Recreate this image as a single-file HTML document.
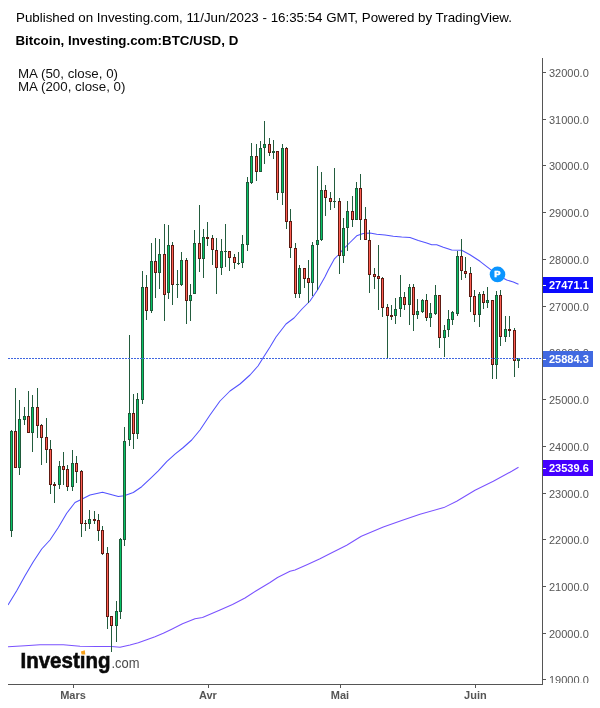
<!DOCTYPE html>
<html lang="fr"><head><meta charset="utf-8"><title>Bitcoin, Investing.com:BTC/USD, D</title>
<style>html,body{margin:0;padding:0;background:#fff}body{width:600px;height:708px;overflow:hidden}</style></head>
<body>
<svg width="600" height="708" viewBox="0 0 600 708" style="display:block">
<rect width="600" height="708" fill="#ffffff"/>
<text x="16" y="21.6" font-family="Liberation Sans, Arial, Helvetica, sans-serif" font-size="13.33" fill="#000000">Published on Investing.com, 11/Jun/2023 - 16:35:54 GMT, Powered by TradingView.</text>
<text x="15.4" y="44.7" font-family="Liberation Sans, Arial, Helvetica, sans-serif" font-size="13.33" font-weight="bold" fill="#000000">Bitcoin, Investing.com:BTC/USD, D</text>
<text x="18" y="78" font-family="Liberation Sans, Arial, Helvetica, sans-serif" font-size="13.33" fill="#111111">MA (50, close, 0)</text>
<text x="18" y="90.5" font-family="Liberation Sans, Arial, Helvetica, sans-serif" font-size="13.33" fill="#111111">MA (200, close, 0)</text>
<defs><clipPath id="plot"><rect x="8" y="58" width="534" height="626"/></clipPath><clipPath id="pax"><rect x="543" y="58" width="57" height="625"/></clipPath></defs>
<g clip-path="url(#plot)">
<path d="M8.0,646.7 L25.0,645.8 L40.0,644.7 L63.3,644.7 L80.0,646.2 L96.7,646.5 L111.7,646.5 L120.0,647.3 L130.0,645.0 L138.3,642.8 L146.7,639.7 L155.0,636.7 L163.3,633.3 L171.7,629.2 L182.5,623.8 L195.0,618.8 L202.5,617.5 L220.0,610.0 L232.5,604.5 L245.0,598.0 L257.5,590.0 L270.0,582.5 L277.5,577.5 L290.0,571.3 L295.0,570.0 L307.5,564.5 L320.0,558.8 L328.3,554.5 L346.7,545.3 L361.3,536.2 L383.3,527.0 L401.7,520.4 L420.0,514.2 L443.8,507.6 L456.7,501.3 L475.0,490.3 L493.3,481.2 L511.7,471.3 L518.5,467.2" fill="none" stroke="#7a52ff" stroke-width="1.05" stroke-linejoin="round"/>
<path d="M8.0,605.0 L16.7,590.8 L25.0,575.8 L33.3,561.7 L41.7,549.0 L50.0,540.0 L58.3,527.5 L66.7,513.3 L75.0,502.5 L81.7,499.2 L90.0,495.0 L102.5,492.2 L110.0,494.2 L118.3,496.5 L124.2,495.7 L133.3,492.5 L141.7,486.7 L150.0,478.8 L158.3,470.8 L166.7,461.7 L175.0,454.2 L183.3,447.5 L191.7,440.0 L200.0,430.0 L210.0,415.0 L220.0,401.0 L230.0,391.0 L240.0,384.0 L250.0,375.0 L258.0,366.0 L263.0,358.0 L270.0,347.0 L276.0,337.0 L286.0,324.0 L294.0,318.0 L302.0,309.0 L310.0,301.0 L317.5,290.0 L325.0,276.7 L328.3,270.0 L334.2,259.2 L338.3,255.0 L343.3,249.2 L350.0,242.5 L356.7,235.8 L363.3,233.5 L370.0,233.0 L376.7,234.2 L385.0,235.0 L393.3,236.3 L401.7,237.0 L410.0,237.5 L418.3,240.5 L426.7,243.0 L431.7,244.7 L436.7,244.7 L443.3,247.2 L451.7,250.0 L461.7,250.3 L470.0,254.7 L480.0,261.3 L490.0,269.2 L497.5,275.0 L506.7,280.0 L513.3,282.0 L518.5,284.3" fill="none" stroke="#5252ff" stroke-width="1.05" stroke-linejoin="round"/>
<g shape-rendering="crispEdges">
<rect x="11" y="430" width="1" height="1" fill="#235c3e"/>
<rect x="11" y="531" width="1" height="6" fill="#235c3e"/>
<rect x="10" y="431" width="3" height="100" fill="#1f5a3a"/>
<rect x="11" y="432" width="1" height="98" fill="#06c366"/>
<rect x="15" y="388" width="1" height="43" fill="#235c3e"/>
<rect x="14" y="431" width="3" height="37" fill="#5e1a12"/>
<rect x="15" y="432" width="1" height="35" fill="#ff5e52"/>
<rect x="19" y="400" width="1" height="19" fill="#235c3e"/>
<rect x="19" y="468" width="1" height="7" fill="#235c3e"/>
<rect x="18" y="419" width="3" height="49" fill="#1f5a3a"/>
<rect x="19" y="420" width="1" height="47" fill="#06c366"/>
<rect x="24" y="407" width="1" height="9" fill="#235c3e"/>
<rect x="24" y="420" width="1" height="5" fill="#235c3e"/>
<rect x="23" y="416" width="3" height="4" fill="#1f5a3a"/>
<rect x="24" y="417" width="1" height="2" fill="#06c366"/>
<rect x="28" y="391" width="1" height="25" fill="#235c3e"/>
<rect x="27" y="416" width="3" height="17" fill="#5e1a12"/>
<rect x="28" y="417" width="1" height="15" fill="#ff5e52"/>
<rect x="32" y="395" width="1" height="12" fill="#235c3e"/>
<rect x="32" y="433" width="1" height="19" fill="#235c3e"/>
<rect x="31" y="407" width="3" height="26" fill="#1f5a3a"/>
<rect x="32" y="408" width="1" height="24" fill="#06c366"/>
<rect x="37" y="388" width="1" height="19" fill="#235c3e"/>
<rect x="37" y="426" width="1" height="12" fill="#235c3e"/>
<rect x="36" y="407" width="3" height="19" fill="#5e1a12"/>
<rect x="37" y="408" width="1" height="17" fill="#ff5e52"/>
<rect x="41" y="424" width="1" height="1" fill="#235c3e"/>
<rect x="41" y="438" width="1" height="27" fill="#235c3e"/>
<rect x="40" y="425" width="3" height="13" fill="#5e1a12"/>
<rect x="41" y="426" width="1" height="11" fill="#ff5e52"/>
<rect x="46" y="418" width="1" height="19" fill="#235c3e"/>
<rect x="46" y="450" width="1" height="13" fill="#235c3e"/>
<rect x="45" y="437" width="3" height="13" fill="#5e1a12"/>
<rect x="46" y="438" width="1" height="11" fill="#ff5e52"/>
<rect x="50" y="440" width="1" height="9" fill="#235c3e"/>
<rect x="50" y="485" width="1" height="9" fill="#235c3e"/>
<rect x="49" y="449" width="3" height="36" fill="#5e1a12"/>
<rect x="50" y="450" width="1" height="34" fill="#ff5e52"/>
<rect x="54" y="482" width="1" height="2" fill="#235c3e"/>
<rect x="54" y="486" width="1" height="17" fill="#235c3e"/>
<rect x="53" y="484" width="3" height="2" fill="#5e1a12"/>
<rect x="59" y="461" width="1" height="5" fill="#235c3e"/>
<rect x="59" y="485" width="1" height="4" fill="#235c3e"/>
<rect x="58" y="466" width="3" height="19" fill="#1f5a3a"/>
<rect x="59" y="467" width="1" height="17" fill="#06c366"/>
<rect x="63" y="452" width="1" height="14" fill="#235c3e"/>
<rect x="63" y="470" width="1" height="15" fill="#235c3e"/>
<rect x="62" y="466" width="3" height="4" fill="#5e1a12"/>
<rect x="63" y="467" width="1" height="2" fill="#ff5e52"/>
<rect x="67" y="465" width="1" height="4" fill="#235c3e"/>
<rect x="67" y="487" width="1" height="4" fill="#235c3e"/>
<rect x="66" y="469" width="3" height="18" fill="#5e1a12"/>
<rect x="67" y="470" width="1" height="16" fill="#ff5e52"/>
<rect x="72" y="450" width="1" height="13" fill="#235c3e"/>
<rect x="72" y="487" width="1" height="4" fill="#235c3e"/>
<rect x="71" y="463" width="3" height="24" fill="#1f5a3a"/>
<rect x="72" y="464" width="1" height="22" fill="#06c366"/>
<rect x="76" y="456" width="1" height="7" fill="#235c3e"/>
<rect x="76" y="472" width="1" height="11" fill="#235c3e"/>
<rect x="75" y="463" width="3" height="9" fill="#5e1a12"/>
<rect x="76" y="464" width="1" height="7" fill="#ff5e52"/>
<rect x="81" y="470" width="1" height="1" fill="#235c3e"/>
<rect x="81" y="524" width="1" height="13" fill="#235c3e"/>
<rect x="80" y="471" width="3" height="53" fill="#5e1a12"/>
<rect x="81" y="472" width="1" height="51" fill="#ff5e52"/>
<rect x="85" y="520" width="1" height="3" fill="#235c3e"/>
<rect x="85" y="524" width="1" height="7" fill="#235c3e"/>
<rect x="84" y="523" width="3" height="1" fill="#5e1a12"/>
<rect x="89" y="510" width="1" height="9" fill="#235c3e"/>
<rect x="89" y="524" width="1" height="5" fill="#235c3e"/>
<rect x="88" y="519" width="3" height="5" fill="#1f5a3a"/>
<rect x="89" y="520" width="1" height="3" fill="#06c366"/>
<rect x="94" y="511" width="1" height="8" fill="#235c3e"/>
<rect x="94" y="521" width="1" height="3" fill="#235c3e"/>
<rect x="93" y="519" width="3" height="2" fill="#5e1a12"/>
<rect x="98" y="514" width="1" height="6" fill="#235c3e"/>
<rect x="98" y="531" width="1" height="10" fill="#235c3e"/>
<rect x="97" y="520" width="3" height="11" fill="#5e1a12"/>
<rect x="98" y="521" width="1" height="9" fill="#ff5e52"/>
<rect x="102" y="526" width="1" height="4" fill="#235c3e"/>
<rect x="102" y="554" width="1" height="1" fill="#235c3e"/>
<rect x="101" y="530" width="3" height="24" fill="#5e1a12"/>
<rect x="102" y="531" width="1" height="22" fill="#ff5e52"/>
<rect x="107" y="547" width="1" height="6" fill="#235c3e"/>
<rect x="107" y="617" width="1" height="12" fill="#235c3e"/>
<rect x="106" y="553" width="3" height="64" fill="#5e1a12"/>
<rect x="107" y="554" width="1" height="62" fill="#ff5e52"/>
<rect x="111" y="626" width="1" height="26" fill="#235c3e"/>
<rect x="110" y="616" width="3" height="10" fill="#5e1a12"/>
<rect x="111" y="617" width="1" height="8" fill="#ff5e52"/>
<rect x="116" y="601" width="1" height="10" fill="#235c3e"/>
<rect x="116" y="626" width="1" height="16" fill="#235c3e"/>
<rect x="115" y="611" width="3" height="15" fill="#1f5a3a"/>
<rect x="116" y="612" width="1" height="13" fill="#06c366"/>
<rect x="120" y="538" width="1" height="1" fill="#235c3e"/>
<rect x="120" y="612" width="1" height="7" fill="#235c3e"/>
<rect x="119" y="539" width="3" height="73" fill="#1f5a3a"/>
<rect x="120" y="540" width="1" height="71" fill="#06c366"/>
<rect x="124" y="427" width="1" height="14" fill="#235c3e"/>
<rect x="124" y="540" width="1" height="6" fill="#235c3e"/>
<rect x="123" y="441" width="3" height="99" fill="#1f5a3a"/>
<rect x="124" y="442" width="1" height="97" fill="#06c366"/>
<rect x="129" y="335" width="1" height="78" fill="#235c3e"/>
<rect x="129" y="440" width="1" height="6" fill="#235c3e"/>
<rect x="128" y="413" width="3" height="27" fill="#1f5a3a"/>
<rect x="129" y="414" width="1" height="25" fill="#06c366"/>
<rect x="133" y="394" width="1" height="19" fill="#235c3e"/>
<rect x="133" y="434" width="1" height="15" fill="#235c3e"/>
<rect x="132" y="413" width="3" height="21" fill="#5e1a12"/>
<rect x="133" y="414" width="1" height="19" fill="#ff5e52"/>
<rect x="137" y="393" width="1" height="6" fill="#235c3e"/>
<rect x="137" y="434" width="1" height="5" fill="#235c3e"/>
<rect x="136" y="399" width="3" height="35" fill="#1f5a3a"/>
<rect x="137" y="400" width="1" height="33" fill="#06c366"/>
<rect x="142" y="271" width="1" height="16" fill="#235c3e"/>
<rect x="142" y="400" width="1" height="4" fill="#235c3e"/>
<rect x="141" y="287" width="3" height="113" fill="#1f5a3a"/>
<rect x="142" y="288" width="1" height="111" fill="#06c366"/>
<rect x="146" y="275" width="1" height="12" fill="#235c3e"/>
<rect x="146" y="311" width="1" height="9" fill="#235c3e"/>
<rect x="145" y="287" width="3" height="24" fill="#5e1a12"/>
<rect x="146" y="288" width="1" height="22" fill="#ff5e52"/>
<rect x="151" y="243" width="1" height="18" fill="#235c3e"/>
<rect x="151" y="311" width="1" height="2" fill="#235c3e"/>
<rect x="150" y="261" width="3" height="50" fill="#1f5a3a"/>
<rect x="151" y="262" width="1" height="48" fill="#06c366"/>
<rect x="155" y="238" width="1" height="23" fill="#235c3e"/>
<rect x="155" y="273" width="1" height="25" fill="#235c3e"/>
<rect x="154" y="261" width="3" height="12" fill="#5e1a12"/>
<rect x="155" y="262" width="1" height="10" fill="#ff5e52"/>
<rect x="159" y="239" width="1" height="15" fill="#235c3e"/>
<rect x="159" y="273" width="1" height="16" fill="#235c3e"/>
<rect x="158" y="254" width="3" height="19" fill="#1f5a3a"/>
<rect x="159" y="255" width="1" height="17" fill="#06c366"/>
<rect x="164" y="224" width="1" height="30" fill="#235c3e"/>
<rect x="164" y="295" width="1" height="26" fill="#235c3e"/>
<rect x="163" y="254" width="3" height="41" fill="#5e1a12"/>
<rect x="164" y="255" width="1" height="39" fill="#ff5e52"/>
<rect x="168" y="225" width="1" height="20" fill="#235c3e"/>
<rect x="168" y="293" width="1" height="6" fill="#235c3e"/>
<rect x="167" y="245" width="3" height="48" fill="#1f5a3a"/>
<rect x="168" y="246" width="1" height="46" fill="#06c366"/>
<rect x="172" y="242" width="1" height="3" fill="#235c3e"/>
<rect x="172" y="285" width="1" height="20" fill="#235c3e"/>
<rect x="171" y="245" width="3" height="40" fill="#5e1a12"/>
<rect x="172" y="246" width="1" height="38" fill="#ff5e52"/>
<rect x="177" y="270" width="1" height="14" fill="#235c3e"/>
<rect x="177" y="285" width="1" height="13" fill="#235c3e"/>
<rect x="176" y="284" width="3" height="1" fill="#1f5a3a"/>
<rect x="181" y="252" width="1" height="8" fill="#235c3e"/>
<rect x="181" y="285" width="1" height="1" fill="#235c3e"/>
<rect x="180" y="260" width="3" height="25" fill="#1f5a3a"/>
<rect x="181" y="261" width="1" height="23" fill="#06c366"/>
<rect x="186" y="258" width="1" height="2" fill="#235c3e"/>
<rect x="186" y="301" width="1" height="23" fill="#235c3e"/>
<rect x="185" y="260" width="3" height="41" fill="#5e1a12"/>
<rect x="186" y="261" width="1" height="39" fill="#ff5e52"/>
<rect x="190" y="284" width="1" height="11" fill="#235c3e"/>
<rect x="190" y="301" width="1" height="20" fill="#235c3e"/>
<rect x="189" y="295" width="3" height="6" fill="#1f5a3a"/>
<rect x="190" y="296" width="1" height="4" fill="#06c366"/>
<rect x="194" y="230" width="1" height="13" fill="#235c3e"/>
<rect x="193" y="243" width="3" height="51" fill="#1f5a3a"/>
<rect x="194" y="244" width="1" height="49" fill="#06c366"/>
<rect x="199" y="205" width="1" height="38" fill="#235c3e"/>
<rect x="199" y="259" width="1" height="13" fill="#235c3e"/>
<rect x="198" y="243" width="3" height="16" fill="#5e1a12"/>
<rect x="199" y="244" width="1" height="14" fill="#ff5e52"/>
<rect x="203" y="229" width="1" height="8" fill="#235c3e"/>
<rect x="203" y="259" width="1" height="19" fill="#235c3e"/>
<rect x="202" y="237" width="3" height="22" fill="#1f5a3a"/>
<rect x="203" y="238" width="1" height="20" fill="#06c366"/>
<rect x="207" y="222" width="1" height="15" fill="#235c3e"/>
<rect x="207" y="239" width="1" height="7" fill="#235c3e"/>
<rect x="206" y="237" width="3" height="2" fill="#5e1a12"/>
<rect x="212" y="235" width="1" height="3" fill="#235c3e"/>
<rect x="212" y="250" width="1" height="15" fill="#235c3e"/>
<rect x="211" y="238" width="3" height="12" fill="#5e1a12"/>
<rect x="212" y="239" width="1" height="10" fill="#ff5e52"/>
<rect x="216" y="238" width="1" height="12" fill="#235c3e"/>
<rect x="216" y="268" width="1" height="26" fill="#235c3e"/>
<rect x="215" y="250" width="3" height="18" fill="#5e1a12"/>
<rect x="216" y="251" width="1" height="16" fill="#ff5e52"/>
<rect x="221" y="239" width="1" height="12" fill="#235c3e"/>
<rect x="221" y="268" width="1" height="7" fill="#235c3e"/>
<rect x="220" y="251" width="3" height="17" fill="#1f5a3a"/>
<rect x="221" y="252" width="1" height="15" fill="#06c366"/>
<rect x="225" y="224" width="1" height="27" fill="#235c3e"/>
<rect x="225" y="252" width="1" height="15" fill="#235c3e"/>
<rect x="224" y="251" width="3" height="1" fill="#1f5a3a"/>
<rect x="229" y="258" width="1" height="13" fill="#235c3e"/>
<rect x="228" y="251" width="3" height="7" fill="#5e1a12"/>
<rect x="229" y="252" width="1" height="5" fill="#ff5e52"/>
<rect x="234" y="254" width="1" height="3" fill="#235c3e"/>
<rect x="234" y="263" width="1" height="6" fill="#235c3e"/>
<rect x="233" y="257" width="3" height="6" fill="#5e1a12"/>
<rect x="234" y="258" width="1" height="4" fill="#ff5e52"/>
<rect x="238" y="252" width="1" height="11" fill="#235c3e"/>
<rect x="238" y="264" width="1" height="1" fill="#235c3e"/>
<rect x="237" y="263" width="3" height="1" fill="#1f5a3a"/>
<rect x="242" y="235" width="1" height="9" fill="#235c3e"/>
<rect x="242" y="263" width="1" height="5" fill="#235c3e"/>
<rect x="241" y="244" width="3" height="19" fill="#1f5a3a"/>
<rect x="242" y="245" width="1" height="17" fill="#06c366"/>
<rect x="247" y="177" width="1" height="5" fill="#235c3e"/>
<rect x="247" y="245" width="1" height="6" fill="#235c3e"/>
<rect x="246" y="182" width="3" height="63" fill="#1f5a3a"/>
<rect x="247" y="183" width="1" height="61" fill="#06c366"/>
<rect x="251" y="143" width="1" height="13" fill="#235c3e"/>
<rect x="251" y="183" width="1" height="1" fill="#235c3e"/>
<rect x="250" y="156" width="3" height="27" fill="#1f5a3a"/>
<rect x="251" y="157" width="1" height="25" fill="#06c366"/>
<rect x="256" y="144" width="1" height="12" fill="#235c3e"/>
<rect x="256" y="172" width="1" height="9" fill="#235c3e"/>
<rect x="255" y="156" width="3" height="16" fill="#5e1a12"/>
<rect x="256" y="157" width="1" height="14" fill="#ff5e52"/>
<rect x="260" y="141" width="1" height="7" fill="#235c3e"/>
<rect x="259" y="148" width="3" height="24" fill="#1f5a3a"/>
<rect x="260" y="149" width="1" height="22" fill="#06c366"/>
<rect x="264" y="121" width="1" height="23" fill="#235c3e"/>
<rect x="264" y="148" width="1" height="16" fill="#235c3e"/>
<rect x="263" y="144" width="3" height="4" fill="#1f5a3a"/>
<rect x="264" y="145" width="1" height="2" fill="#06c366"/>
<rect x="269" y="138" width="1" height="6" fill="#235c3e"/>
<rect x="269" y="153" width="1" height="3" fill="#235c3e"/>
<rect x="268" y="144" width="3" height="9" fill="#5e1a12"/>
<rect x="269" y="145" width="1" height="7" fill="#ff5e52"/>
<rect x="273" y="140" width="1" height="11" fill="#235c3e"/>
<rect x="273" y="153" width="1" height="6" fill="#235c3e"/>
<rect x="272" y="151" width="3" height="2" fill="#1f5a3a"/>
<rect x="277" y="193" width="1" height="7" fill="#235c3e"/>
<rect x="276" y="151" width="3" height="42" fill="#5e1a12"/>
<rect x="277" y="152" width="1" height="40" fill="#ff5e52"/>
<rect x="282" y="144" width="1" height="4" fill="#235c3e"/>
<rect x="282" y="193" width="1" height="12" fill="#235c3e"/>
<rect x="281" y="148" width="3" height="45" fill="#1f5a3a"/>
<rect x="282" y="149" width="1" height="43" fill="#06c366"/>
<rect x="286" y="147" width="1" height="1" fill="#235c3e"/>
<rect x="286" y="222" width="1" height="7" fill="#235c3e"/>
<rect x="285" y="148" width="3" height="74" fill="#5e1a12"/>
<rect x="286" y="149" width="1" height="72" fill="#ff5e52"/>
<rect x="290" y="209" width="1" height="12" fill="#235c3e"/>
<rect x="290" y="248" width="1" height="10" fill="#235c3e"/>
<rect x="289" y="221" width="3" height="27" fill="#5e1a12"/>
<rect x="290" y="222" width="1" height="25" fill="#ff5e52"/>
<rect x="295" y="243" width="1" height="5" fill="#235c3e"/>
<rect x="295" y="294" width="1" height="4" fill="#235c3e"/>
<rect x="294" y="248" width="3" height="46" fill="#5e1a12"/>
<rect x="295" y="249" width="1" height="44" fill="#ff5e52"/>
<rect x="299" y="265" width="1" height="3" fill="#235c3e"/>
<rect x="299" y="294" width="1" height="4" fill="#235c3e"/>
<rect x="298" y="268" width="3" height="26" fill="#1f5a3a"/>
<rect x="299" y="269" width="1" height="24" fill="#06c366"/>
<rect x="304" y="279" width="1" height="9" fill="#235c3e"/>
<rect x="303" y="268" width="3" height="11" fill="#5e1a12"/>
<rect x="304" y="269" width="1" height="9" fill="#ff5e52"/>
<rect x="308" y="260" width="1" height="18" fill="#235c3e"/>
<rect x="308" y="283" width="1" height="20" fill="#235c3e"/>
<rect x="307" y="278" width="3" height="5" fill="#5e1a12"/>
<rect x="308" y="279" width="1" height="3" fill="#ff5e52"/>
<rect x="312" y="242" width="1" height="3" fill="#235c3e"/>
<rect x="312" y="283" width="1" height="13" fill="#235c3e"/>
<rect x="311" y="245" width="3" height="38" fill="#1f5a3a"/>
<rect x="312" y="246" width="1" height="36" fill="#06c366"/>
<rect x="317" y="166" width="1" height="74" fill="#235c3e"/>
<rect x="317" y="245" width="1" height="45" fill="#235c3e"/>
<rect x="316" y="240" width="3" height="5" fill="#1f5a3a"/>
<rect x="317" y="241" width="1" height="3" fill="#06c366"/>
<rect x="321" y="172" width="1" height="18" fill="#235c3e"/>
<rect x="321" y="240" width="1" height="1" fill="#235c3e"/>
<rect x="320" y="190" width="3" height="50" fill="#1f5a3a"/>
<rect x="321" y="191" width="1" height="48" fill="#06c366"/>
<rect x="325" y="185" width="1" height="5" fill="#235c3e"/>
<rect x="325" y="198" width="1" height="18" fill="#235c3e"/>
<rect x="324" y="190" width="3" height="8" fill="#5e1a12"/>
<rect x="325" y="191" width="1" height="6" fill="#ff5e52"/>
<rect x="330" y="192" width="1" height="6" fill="#235c3e"/>
<rect x="330" y="202" width="1" height="8" fill="#235c3e"/>
<rect x="329" y="198" width="3" height="4" fill="#5e1a12"/>
<rect x="330" y="199" width="1" height="2" fill="#ff5e52"/>
<rect x="334" y="168" width="1" height="33" fill="#235c3e"/>
<rect x="334" y="202" width="1" height="6" fill="#235c3e"/>
<rect x="333" y="201" width="3" height="1" fill="#1f5a3a"/>
<rect x="339" y="198" width="1" height="3" fill="#235c3e"/>
<rect x="339" y="256" width="1" height="18" fill="#235c3e"/>
<rect x="338" y="201" width="3" height="55" fill="#5e1a12"/>
<rect x="339" y="202" width="1" height="53" fill="#ff5e52"/>
<rect x="343" y="218" width="1" height="10" fill="#235c3e"/>
<rect x="343" y="256" width="1" height="7" fill="#235c3e"/>
<rect x="342" y="228" width="3" height="28" fill="#1f5a3a"/>
<rect x="343" y="229" width="1" height="26" fill="#06c366"/>
<rect x="347" y="201" width="1" height="10" fill="#235c3e"/>
<rect x="347" y="228" width="1" height="23" fill="#235c3e"/>
<rect x="346" y="211" width="3" height="17" fill="#1f5a3a"/>
<rect x="347" y="212" width="1" height="15" fill="#06c366"/>
<rect x="352" y="196" width="1" height="15" fill="#235c3e"/>
<rect x="352" y="220" width="1" height="7" fill="#235c3e"/>
<rect x="351" y="211" width="3" height="9" fill="#5e1a12"/>
<rect x="352" y="212" width="1" height="7" fill="#ff5e52"/>
<rect x="356" y="182" width="1" height="6" fill="#235c3e"/>
<rect x="355" y="188" width="3" height="32" fill="#1f5a3a"/>
<rect x="356" y="189" width="1" height="30" fill="#06c366"/>
<rect x="360" y="174" width="1" height="14" fill="#235c3e"/>
<rect x="360" y="220" width="1" height="20" fill="#235c3e"/>
<rect x="359" y="188" width="3" height="32" fill="#5e1a12"/>
<rect x="360" y="189" width="1" height="30" fill="#ff5e52"/>
<rect x="365" y="207" width="1" height="12" fill="#235c3e"/>
<rect x="364" y="219" width="3" height="21" fill="#5e1a12"/>
<rect x="365" y="220" width="1" height="19" fill="#ff5e52"/>
<rect x="369" y="230" width="1" height="10" fill="#235c3e"/>
<rect x="369" y="275" width="1" height="18" fill="#235c3e"/>
<rect x="368" y="240" width="3" height="35" fill="#5e1a12"/>
<rect x="369" y="241" width="1" height="33" fill="#ff5e52"/>
<rect x="374" y="268" width="1" height="6" fill="#235c3e"/>
<rect x="374" y="277" width="1" height="12" fill="#235c3e"/>
<rect x="373" y="274" width="3" height="3" fill="#5e1a12"/>
<rect x="374" y="275" width="1" height="1" fill="#ff5e52"/>
<rect x="378" y="245" width="1" height="31" fill="#235c3e"/>
<rect x="378" y="279" width="1" height="31" fill="#235c3e"/>
<rect x="377" y="276" width="3" height="3" fill="#5e1a12"/>
<rect x="378" y="277" width="1" height="1" fill="#ff5e52"/>
<rect x="382" y="277" width="1" height="1" fill="#235c3e"/>
<rect x="382" y="308" width="1" height="9" fill="#235c3e"/>
<rect x="381" y="278" width="3" height="30" fill="#5e1a12"/>
<rect x="382" y="279" width="1" height="28" fill="#ff5e52"/>
<rect x="387" y="304" width="1" height="3" fill="#235c3e"/>
<rect x="387" y="316" width="1" height="42" fill="#235c3e"/>
<rect x="386" y="307" width="3" height="9" fill="#5e1a12"/>
<rect x="387" y="308" width="1" height="7" fill="#ff5e52"/>
<rect x="391" y="305" width="1" height="10" fill="#235c3e"/>
<rect x="391" y="317" width="1" height="3" fill="#235c3e"/>
<rect x="390" y="315" width="3" height="2" fill="#5e1a12"/>
<rect x="395" y="298" width="1" height="11" fill="#235c3e"/>
<rect x="395" y="316" width="1" height="8" fill="#235c3e"/>
<rect x="394" y="309" width="3" height="7" fill="#1f5a3a"/>
<rect x="395" y="310" width="1" height="5" fill="#06c366"/>
<rect x="400" y="275" width="1" height="22" fill="#235c3e"/>
<rect x="400" y="309" width="1" height="8" fill="#235c3e"/>
<rect x="399" y="297" width="3" height="12" fill="#1f5a3a"/>
<rect x="400" y="298" width="1" height="10" fill="#06c366"/>
<rect x="404" y="292" width="1" height="5" fill="#235c3e"/>
<rect x="404" y="305" width="1" height="5" fill="#235c3e"/>
<rect x="403" y="297" width="3" height="8" fill="#5e1a12"/>
<rect x="404" y="298" width="1" height="6" fill="#ff5e52"/>
<rect x="409" y="284" width="1" height="3" fill="#235c3e"/>
<rect x="409" y="305" width="1" height="20" fill="#235c3e"/>
<rect x="408" y="287" width="3" height="18" fill="#1f5a3a"/>
<rect x="409" y="288" width="1" height="16" fill="#06c366"/>
<rect x="413" y="284" width="1" height="3" fill="#235c3e"/>
<rect x="413" y="315" width="1" height="16" fill="#235c3e"/>
<rect x="412" y="287" width="3" height="28" fill="#5e1a12"/>
<rect x="413" y="288" width="1" height="26" fill="#ff5e52"/>
<rect x="417" y="299" width="1" height="12" fill="#235c3e"/>
<rect x="417" y="315" width="1" height="4" fill="#235c3e"/>
<rect x="416" y="311" width="3" height="4" fill="#1f5a3a"/>
<rect x="417" y="312" width="1" height="2" fill="#06c366"/>
<rect x="422" y="299" width="1" height="1" fill="#235c3e"/>
<rect x="422" y="312" width="1" height="1" fill="#235c3e"/>
<rect x="421" y="300" width="3" height="12" fill="#1f5a3a"/>
<rect x="422" y="301" width="1" height="10" fill="#06c366"/>
<rect x="426" y="294" width="1" height="6" fill="#235c3e"/>
<rect x="426" y="318" width="1" height="3" fill="#235c3e"/>
<rect x="425" y="300" width="3" height="18" fill="#5e1a12"/>
<rect x="426" y="301" width="1" height="16" fill="#ff5e52"/>
<rect x="430" y="303" width="1" height="10" fill="#235c3e"/>
<rect x="430" y="318" width="1" height="9" fill="#235c3e"/>
<rect x="429" y="313" width="3" height="5" fill="#1f5a3a"/>
<rect x="430" y="314" width="1" height="3" fill="#06c366"/>
<rect x="435" y="285" width="1" height="10" fill="#235c3e"/>
<rect x="435" y="314" width="1" height="1" fill="#235c3e"/>
<rect x="434" y="295" width="3" height="19" fill="#1f5a3a"/>
<rect x="435" y="296" width="1" height="17" fill="#06c366"/>
<rect x="439" y="338" width="1" height="10" fill="#235c3e"/>
<rect x="438" y="295" width="3" height="43" fill="#5e1a12"/>
<rect x="439" y="296" width="1" height="41" fill="#ff5e52"/>
<rect x="444" y="325" width="1" height="5" fill="#235c3e"/>
<rect x="444" y="338" width="1" height="19" fill="#235c3e"/>
<rect x="443" y="330" width="3" height="8" fill="#1f5a3a"/>
<rect x="444" y="331" width="1" height="6" fill="#06c366"/>
<rect x="448" y="310" width="1" height="9" fill="#235c3e"/>
<rect x="448" y="330" width="1" height="7" fill="#235c3e"/>
<rect x="447" y="319" width="3" height="11" fill="#1f5a3a"/>
<rect x="448" y="320" width="1" height="9" fill="#06c366"/>
<rect x="452" y="311" width="1" height="1" fill="#235c3e"/>
<rect x="452" y="320" width="1" height="5" fill="#235c3e"/>
<rect x="451" y="312" width="3" height="8" fill="#1f5a3a"/>
<rect x="452" y="313" width="1" height="6" fill="#06c366"/>
<rect x="457" y="251" width="1" height="5" fill="#235c3e"/>
<rect x="457" y="314" width="1" height="2" fill="#235c3e"/>
<rect x="456" y="256" width="3" height="58" fill="#1f5a3a"/>
<rect x="457" y="257" width="1" height="56" fill="#06c366"/>
<rect x="461" y="239" width="1" height="17" fill="#235c3e"/>
<rect x="461" y="271" width="1" height="9" fill="#235c3e"/>
<rect x="460" y="256" width="3" height="15" fill="#5e1a12"/>
<rect x="461" y="257" width="1" height="13" fill="#ff5e52"/>
<rect x="465" y="257" width="1" height="14" fill="#235c3e"/>
<rect x="465" y="274" width="1" height="4" fill="#235c3e"/>
<rect x="464" y="271" width="3" height="3" fill="#5e1a12"/>
<rect x="465" y="272" width="1" height="1" fill="#ff5e52"/>
<rect x="470" y="267" width="1" height="6" fill="#235c3e"/>
<rect x="470" y="297" width="1" height="15" fill="#235c3e"/>
<rect x="469" y="273" width="3" height="24" fill="#5e1a12"/>
<rect x="470" y="274" width="1" height="22" fill="#ff5e52"/>
<rect x="474" y="290" width="1" height="6" fill="#235c3e"/>
<rect x="474" y="315" width="1" height="7" fill="#235c3e"/>
<rect x="473" y="296" width="3" height="19" fill="#5e1a12"/>
<rect x="474" y="297" width="1" height="17" fill="#ff5e52"/>
<rect x="479" y="292" width="1" height="2" fill="#235c3e"/>
<rect x="479" y="315" width="1" height="12" fill="#235c3e"/>
<rect x="478" y="294" width="3" height="21" fill="#1f5a3a"/>
<rect x="479" y="295" width="1" height="19" fill="#06c366"/>
<rect x="483" y="291" width="1" height="3" fill="#235c3e"/>
<rect x="483" y="303" width="1" height="6" fill="#235c3e"/>
<rect x="482" y="294" width="3" height="9" fill="#5e1a12"/>
<rect x="483" y="295" width="1" height="7" fill="#ff5e52"/>
<rect x="487" y="287" width="1" height="13" fill="#235c3e"/>
<rect x="487" y="303" width="1" height="5" fill="#235c3e"/>
<rect x="486" y="300" width="3" height="3" fill="#1f5a3a"/>
<rect x="487" y="301" width="1" height="1" fill="#06c366"/>
<rect x="492" y="365" width="1" height="14" fill="#235c3e"/>
<rect x="491" y="300" width="3" height="65" fill="#5e1a12"/>
<rect x="492" y="301" width="1" height="63" fill="#ff5e52"/>
<rect x="496" y="291" width="1" height="4" fill="#235c3e"/>
<rect x="496" y="365" width="1" height="14" fill="#235c3e"/>
<rect x="495" y="295" width="3" height="70" fill="#1f5a3a"/>
<rect x="496" y="296" width="1" height="68" fill="#06c366"/>
<rect x="500" y="290" width="1" height="5" fill="#235c3e"/>
<rect x="500" y="337" width="1" height="9" fill="#235c3e"/>
<rect x="499" y="295" width="3" height="42" fill="#5e1a12"/>
<rect x="500" y="296" width="1" height="40" fill="#ff5e52"/>
<rect x="505" y="316" width="1" height="13" fill="#235c3e"/>
<rect x="505" y="337" width="1" height="5" fill="#235c3e"/>
<rect x="504" y="329" width="3" height="8" fill="#1f5a3a"/>
<rect x="505" y="330" width="1" height="6" fill="#06c366"/>
<rect x="509" y="316" width="1" height="13" fill="#235c3e"/>
<rect x="509" y="331" width="1" height="6" fill="#235c3e"/>
<rect x="508" y="329" width="3" height="2" fill="#5e1a12"/>
<rect x="514" y="328" width="1" height="2" fill="#235c3e"/>
<rect x="514" y="361" width="1" height="16" fill="#235c3e"/>
<rect x="513" y="330" width="3" height="31" fill="#5e1a12"/>
<rect x="514" y="331" width="1" height="29" fill="#ff5e52"/>
<rect x="518" y="361" width="1" height="7" fill="#235c3e"/>
<rect x="517" y="358" width="3" height="3" fill="#1f5a3a"/>
<rect x="518" y="359" width="1" height="1" fill="#06c366"/>
</g>

<path d="M8,358.5 H542" stroke="#3f66e0" stroke-width="1" stroke-dasharray="2,1" shape-rendering="crispEdges"/>
<circle cx="497.5" cy="274.4" r="7.8" fill="#0b95ff"/>
<text x="497.4" y="276.9" font-family="Liberation Sans, Arial, Helvetica, sans-serif" font-size="9.4" font-weight="bold" fill="#ffffff" stroke="#ffffff" stroke-width="0.5" text-anchor="middle">P</text>
</g>
<text x="20.5" y="667.5" font-family="Liberation Sans, Arial, Helvetica, sans-serif" font-size="22" font-weight="bold" fill="#0a0a0a" stroke="#0a0a0a" stroke-width="0.6" textLength="90" lengthAdjust="spacingAndGlyphs">Investıng</text>
<path d="M81.6,654.6 L80.9,651.5 L84.8,650.3 L85.3,654.6 Z" fill="#f7a11a"/>
<text x="111.5" y="667.5" font-family="Liberation Sans, Arial, Helvetica, sans-serif" font-size="15" fill="#4a4a4a" textLength="28" lengthAdjust="spacingAndGlyphs">.com</text>
<g shape-rendering="crispEdges" fill="#555555">
<rect x="542" y="58" width="1" height="627"/>
<rect x="8" y="684" width="535" height="1"/>
<rect x="543" y="72" width="3" height="1"/>
<rect x="543" y="119" width="3" height="1"/>
<rect x="543" y="165" width="3" height="1"/>
<rect x="543" y="212" width="3" height="1"/>
<rect x="543" y="259" width="3" height="1"/>
<rect x="543" y="306" width="3" height="1"/>
<rect x="543" y="352" width="3" height="1"/>
<rect x="543" y="399" width="3" height="1"/>
<rect x="543" y="446" width="3" height="1"/>
<rect x="543" y="493" width="3" height="1"/>
<rect x="543" y="539" width="3" height="1"/>
<rect x="543" y="586" width="3" height="1"/>
<rect x="543" y="633" width="3" height="1"/>
<rect x="543" y="679" width="3" height="1"/>
<rect x="73" y="685" width="1" height="3"/>
<rect x="208" y="685" width="1" height="3"/>
<rect x="340" y="685" width="1" height="3"/>
<rect x="475" y="685" width="1" height="3"/>
</g>
<g clip-path="url(#pax)">
<text x="549" y="76.5" font-family="Liberation Sans, Arial, Helvetica, sans-serif" font-size="11" fill="#555555">32000.0</text>
<text x="549" y="123.5" font-family="Liberation Sans, Arial, Helvetica, sans-serif" font-size="11" fill="#555555">31000.0</text>
<text x="549" y="169.5" font-family="Liberation Sans, Arial, Helvetica, sans-serif" font-size="11" fill="#555555">30000.0</text>
<text x="549" y="216.5" font-family="Liberation Sans, Arial, Helvetica, sans-serif" font-size="11" fill="#555555">29000.0</text>
<text x="549" y="263.5" font-family="Liberation Sans, Arial, Helvetica, sans-serif" font-size="11" fill="#555555">28000.0</text>
<text x="549" y="310.5" font-family="Liberation Sans, Arial, Helvetica, sans-serif" font-size="11" fill="#555555">27000.0</text>
<text x="549" y="356.5" font-family="Liberation Sans, Arial, Helvetica, sans-serif" font-size="11" fill="#555555">26000.0</text>
<text x="549" y="403.5" font-family="Liberation Sans, Arial, Helvetica, sans-serif" font-size="11" fill="#555555">25000.0</text>
<text x="549" y="450.5" font-family="Liberation Sans, Arial, Helvetica, sans-serif" font-size="11" fill="#555555">24000.0</text>
<text x="549" y="497.5" font-family="Liberation Sans, Arial, Helvetica, sans-serif" font-size="11" fill="#555555">23000.0</text>
<text x="549" y="543.5" font-family="Liberation Sans, Arial, Helvetica, sans-serif" font-size="11" fill="#555555">22000.0</text>
<text x="549" y="590.5" font-family="Liberation Sans, Arial, Helvetica, sans-serif" font-size="11" fill="#555555">21000.0</text>
<text x="549" y="637.5" font-family="Liberation Sans, Arial, Helvetica, sans-serif" font-size="11" fill="#555555">20000.0</text>
<text x="549" y="683.5" font-family="Liberation Sans, Arial, Helvetica, sans-serif" font-size="11" fill="#555555">19000.0</text>
<rect x="543" y="277" width="50" height="16" fill="#0a0aff" shape-rendering="crispEdges"/>
<rect x="543" y="285" width="3" height="1" fill="#ffffff" shape-rendering="crispEdges"/>
<text x="549" y="289" font-family="Liberation Sans, Arial, Helvetica, sans-serif" font-size="11" font-weight="bold" fill="#ffffff">27471.1</text>
<rect x="543" y="351" width="50" height="16" fill="#4169e1" shape-rendering="crispEdges"/>
<rect x="543" y="359" width="3" height="1" fill="#ffffff" shape-rendering="crispEdges"/>
<text x="549" y="363" font-family="Liberation Sans, Arial, Helvetica, sans-serif" font-size="11" font-weight="bold" fill="#ffffff">25884.3</text>
<rect x="543" y="460" width="50" height="16" fill="#4400ff" shape-rendering="crispEdges"/>
<rect x="543" y="468" width="3" height="1" fill="#ffffff" shape-rendering="crispEdges"/>
<text x="549" y="472" font-family="Liberation Sans, Arial, Helvetica, sans-serif" font-size="11" font-weight="bold" fill="#ffffff">23539.6</text>
</g>
<text x="73.0" y="699" font-family="Liberation Sans, Arial, Helvetica, sans-serif" font-size="11" font-weight="bold" fill="#555555" text-anchor="middle">Mars</text>
<text x="207.9" y="699" font-family="Liberation Sans, Arial, Helvetica, sans-serif" font-size="11" font-weight="bold" fill="#555555" text-anchor="middle">Avr</text>
<text x="339.9" y="699" font-family="Liberation Sans, Arial, Helvetica, sans-serif" font-size="11" font-weight="bold" fill="#555555" text-anchor="middle">Mai</text>
<text x="475.4" y="699" font-family="Liberation Sans, Arial, Helvetica, sans-serif" font-size="11" font-weight="bold" fill="#555555" text-anchor="middle">Juin</text>
</svg>
</body></html>
